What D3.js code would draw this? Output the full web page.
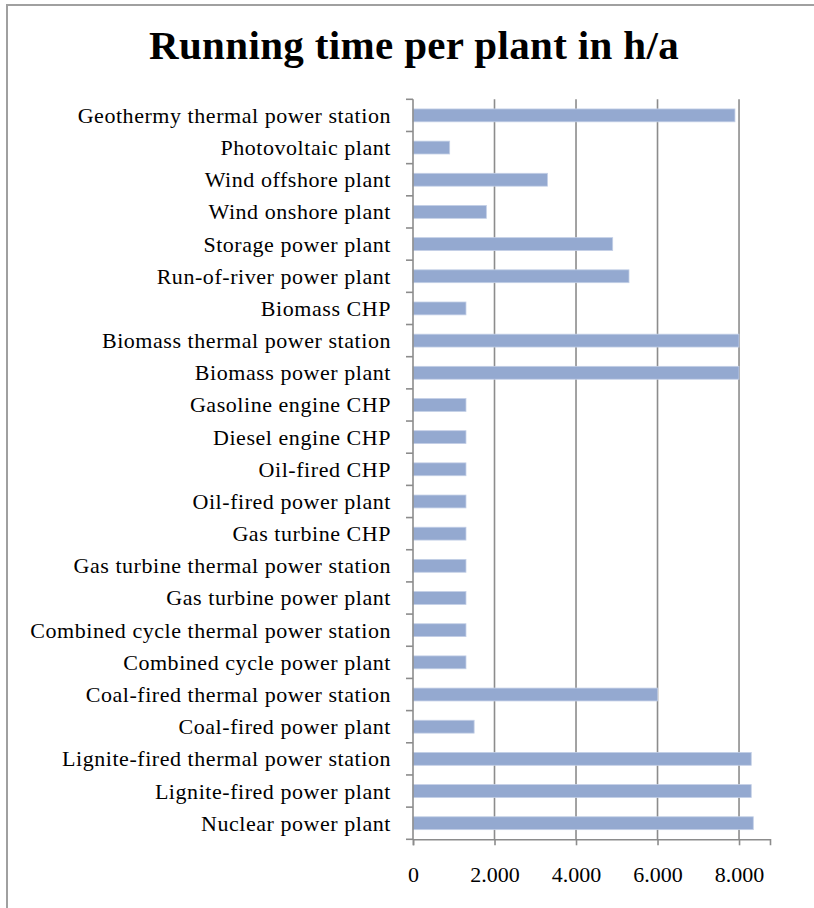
<!DOCTYPE html>
<html>
<head>
<meta charset="utf-8">
<script src="https://cdn.jsdelivr.net/npm/d3@7"></script>
<style>
  html, body { margin: 0; padding: 0; background: #fff; }
  svg { display: block; }
  text { font-family: "Liberation Serif", "Times New Roman", serif; fill: #000; }
</style>
</head>
<body>
<svg id="chart" width="814" height="908"></svg>
<script>
// Plant types, listed top to bottom
const plants = [
  "Geothermy thermal power station",
  "Photovoltaic plant",
  "Wind offshore plant",
  "Wind onshore plant",
  "Storage power plant",
  "Run-of-river power plant",
  "Biomass CHP",
  "Biomass thermal power station",
  "Biomass power plant",
  "Gasoline engine CHP",
  "Diesel engine CHP",
  "Oil-fired CHP",
  "Oil-fired power plant",
  "Gas turbine CHP",
  "Gas turbine thermal power station",
  "Gas turbine power plant",
  "Combined cycle thermal power station",
  "Combined cycle power plant",
  "Coal-fired thermal power station",
  "Coal-fired power plant",
  "Lignite-fired thermal power station",
  "Lignite-fired power plant",
  "Nuclear power plant"
];

// Full-load running hours per year
const hours = [
  7900, 900, 3300, 1800, 4900, 5300, 1300, 8000, 8000, 1300, 1300, 1300,
  1300, 1300, 1300, 1300, 1300, 1300, 6000, 1500, 8300, 8300, 8350
];

const xTicks = [0, 2000, 4000, 6000, 8000];
const xMax = 8760;
const title = "Running time per plant in h/a";

const svg = d3.select("#chart");
const plot = { left: 413, right: 770, top: 99.3, bottom: 839.3 };

const deLocale = d3.formatLocale({ decimal: ",", thousands: ".", grouping: [3], currency: ["", " €"] });
const fmt = deLocale.format(",d");

const x = d3.scaleLinear().domain([0, xMax]).range([plot.left, plot.right]);
const y = d3.scaleBand().domain(plants).range([plot.top, plot.bottom]).paddingInner(0.6).paddingOuter(0.3);

// Outer chart frame
svg.append("rect")
  .attr("x", 7).attr("y", 5).attr("width", 830).attr("height", 930)
  .attr("fill", "none").attr("stroke", "#a0a0a0").attr("stroke-width", 2);

// Title
svg.append("text")
  .attr("x", 414).attr("y", 59)
  .attr("text-anchor", "middle")
  .attr("font-size", 41).attr("font-weight", "bold")
  .attr("letter-spacing", 0.35)
  .text(title);

// Vertical gridlines
svg.append("g")
  .selectAll("line")
  .data(xTicks.filter(d => d > 0))
  .join("line")
  .attr("x1", d => x(d)).attr("x2", d => x(d))
  .attr("y1", plot.top).attr("y2", plot.bottom)
  .attr("stroke", "#8c8c8c").attr("stroke-width", 1.6);

// Bars
svg.append("g")
  .selectAll("rect")
  .data(plants.map((p, i) => ({ p, v: hours[i] })))
  .join("rect")
  .attr("x", x(0))
  .attr("y", d => y(d.p))
  .attr("width", d => x(d.v) - x(0))
  .attr("height", y.bandwidth())
  .attr("fill", "#94a9d0")
  .attr("stroke", "#c3cfe6").attr("stroke-width", 0.8);

// Category axis (left)
const yBounds = d3.range(plants.length + 1).map(i => plot.top + i * (plot.bottom - plot.top) / plants.length);
const yAxis = svg.append("g");
yAxis.append("line")
  .attr("x1", plot.left).attr("x2", plot.left)
  .attr("y1", plot.top).attr("y2", plot.bottom)
  .attr("stroke", "#8c8c8c").attr("stroke-width", 1.6);
yAxis.selectAll("line.tick")
  .data(yBounds)
  .join("line").attr("class", "tick")
  .attr("x1", plot.left - 7).attr("x2", plot.left)
  .attr("y1", d => d).attr("y2", d => d)
  .attr("stroke", "#8c8c8c").attr("stroke-width", 1.6);
yAxis.selectAll("text")
  .data(plants)
  .join("text")
  .attr("x", 391)
  .attr("y", d => y(d) + y.bandwidth() / 2)
  .attr("dy", "0.34em")
  .attr("text-anchor", "end")
  .attr("font-size", 22)
  .attr("letter-spacing", 0.55)
  .text(d => d);

// Value axis (bottom)
const xAxis = svg.append("g").attr("transform", `translate(0,${plot.bottom})`)
  .call(d3.axisBottom(x).tickValues(xTicks).tickFormat(fmt).tickSize(6).tickPadding(21));
xAxis.select(".domain").attr("stroke", "#8c8c8c").attr("stroke-width", 1.6);
xAxis.selectAll(".tick line").attr("stroke", "#8c8c8c").attr("stroke-width", 1.6);
xAxis.selectAll(".tick text")
  .attr("font-family", "Liberation Serif, Times New Roman, serif")
  .attr("font-size", 22).attr("fill", "#000");
</script>
</body>
</html>
